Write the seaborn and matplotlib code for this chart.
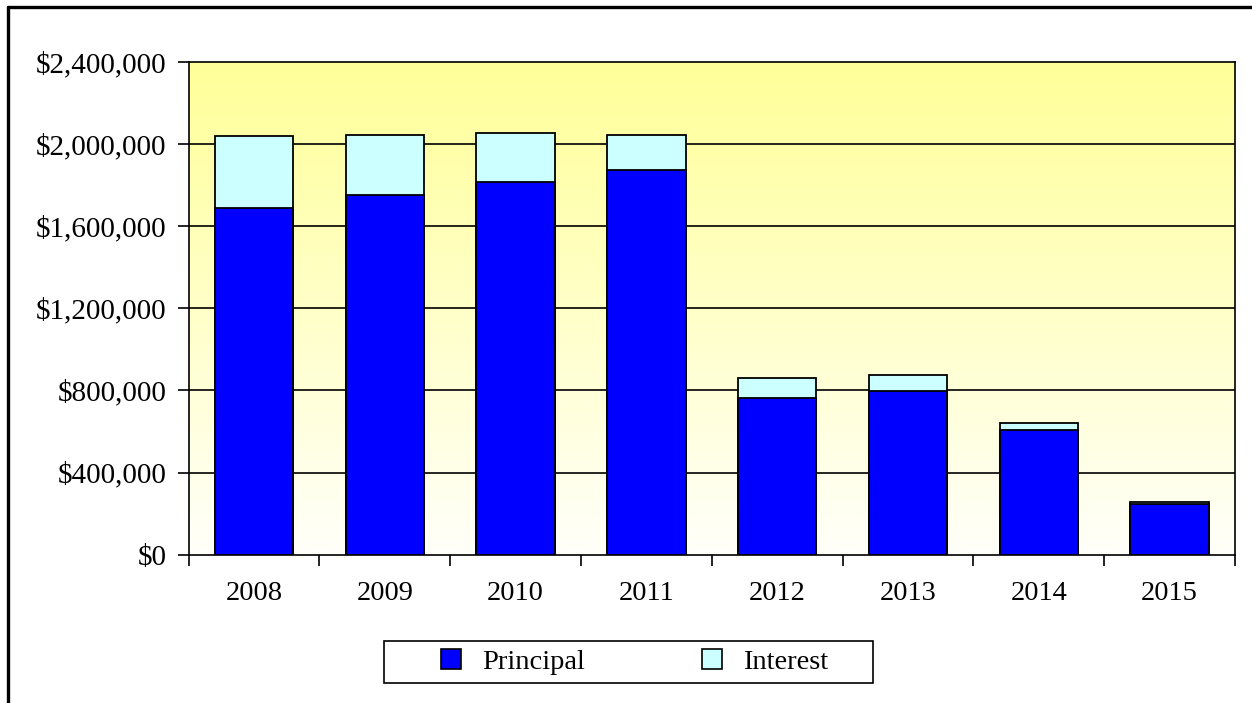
"""
Stacked annual debt service (principal + interest), 2008-2015.
"""

import matplotlib

matplotlib.use("Agg")

import matplotlib.pyplot as plt
import numpy as np
import pandas as pd
import seaborn as sns
from matplotlib import ticker
from matplotlib.colors import LinearSegmentedColormap
from matplotlib.lines import Line2D
from matplotlib.patches import Patch, Rectangle


YEARS = ["2008", "2009", "2010", "2011", "2012", "2013", "2014", "2015"]
PRINCIPAL = [1688000, 1751000, 1815000, 1873000, 762000, 798000, 605000, 245000]
INTEREST = [350000, 295000, 239000, 173000, 98000, 75000, 36000, 10000]

PRINCIPAL_COLOR = "#0000FF"
INTEREST_COLOR = "#CCFFFF"


def setup_style() -> None:
    sns.set_theme(style="white")
    plt.rcParams["font.family"] = ["Liberation Serif", "DejaVu Serif"]
    plt.rcParams["font.size"] = 20
    plt.rcParams["text.color"] = "black"


def main() -> None:
    setup_style()

    df = pd.DataFrame({"year": YEARS, "principal": PRINCIPAL, "interest": INTEREST})
    df["total"] = df["principal"] + df["interest"]

    fig = plt.figure(figsize=(12.52, 7.03), dpi=100)
    ax = fig.add_axes([0.1507, 0.211, 0.8357, 0.7008])

    # yellow-to-white gradient plot area
    cmap = LinearSegmentedColormap.from_list("bg", ["#FFFFFA", "#FFFFC8", "#FFFF99"])
    grad = np.linspace(0, 1, 256).reshape(-1, 1)
    ax.imshow(grad, extent=[-0.5, 7.5, 0, 2400000], origin="lower",
              aspect="auto", cmap=cmap, zorder=0)

    for y in np.arange(400000, 2400000, 400000):
        ax.axhline(y, color="black", lw=1.2, zorder=1)

    sns.barplot(data=df, x="year", y="total", color=INTEREST_COLOR, width=0.6,
                edgecolor="black", linewidth=1.3, saturation=1, ax=ax, zorder=2)
    sns.barplot(data=df, x="year", y="principal", color=PRINCIPAL_COLOR, width=0.6,
                edgecolor="black", linewidth=1.3, saturation=1, ax=ax, zorder=3)

    ax.set_xlim(-0.5, 7.5)
    ax.set_ylim(0, 2400000)
    ax.set_xlabel("")
    ax.set_ylabel("")
    ax.set_yticks(np.arange(0, 2400001, 400000))
    ax.yaxis.set_major_formatter(ticker.StrMethodFormatter("${x:,.0f}"))

    ax.set_xticks(np.arange(8))
    ax.set_xticklabels(YEARS)
    ax.set_xticks(np.arange(-0.5, 8, 1), minor=True)
    ax.tick_params(axis="x", which="major", length=0, pad=19, labelsize=20.5, colors="black")
    ax.tick_params(axis="x", which="minor", bottom=True, length=8, width=1.2,
                   direction="out", color="black")
    ax.tick_params(axis="y", left=True, length=8, width=1.2, direction="out",
                   pad=8, labelsize=21, colors="black")

    for spine in ax.spines.values():
        spine.set_color("black")
        spine.set_linewidth(1.2)
        spine.set_visible(True)

    # legend with its own box
    handles = [
        Patch(facecolor=PRINCIPAL_COLOR, edgecolor="black", linewidth=1.2, label="Principal"),
        Patch(facecolor=INTEREST_COLOR, edgecolor="black", linewidth=1.2, label="Interest"),
    ]
    fig.legend(handles=handles, loc="center", bbox_to_anchor=(0.507, 0.0583), ncol=2,
               frameon=False, handlelength=0.7, handleheight=0.7, handletextpad=0.75,
               columnspacing=4.1, fontsize=20.5, labelcolor="black")
    fig.patches.append(Rectangle((384 / 1252, (703 - 683) / 703), 489 / 1252, 42 / 703,
                                 transform=fig.transFigure, fill=False,
                                 edgecolor="black", linewidth=1.2))

    # outer chart border (left and top visible)
    fig.lines.append(Line2D([8 / 1252, 8 / 1252], [0, 1 - 7 / 703],
                            transform=fig.transFigure, color="black", lw=2.4))
    fig.lines.append(Line2D([8 / 1252, 1], [1 - 7 / 703, 1 - 7 / 703],
                            transform=fig.transFigure, color="black", lw=2.4))

    fig.savefig("out.png", dpi=100, facecolor="white")
    plt.close(fig)


if __name__ == "__main__":
    main()
